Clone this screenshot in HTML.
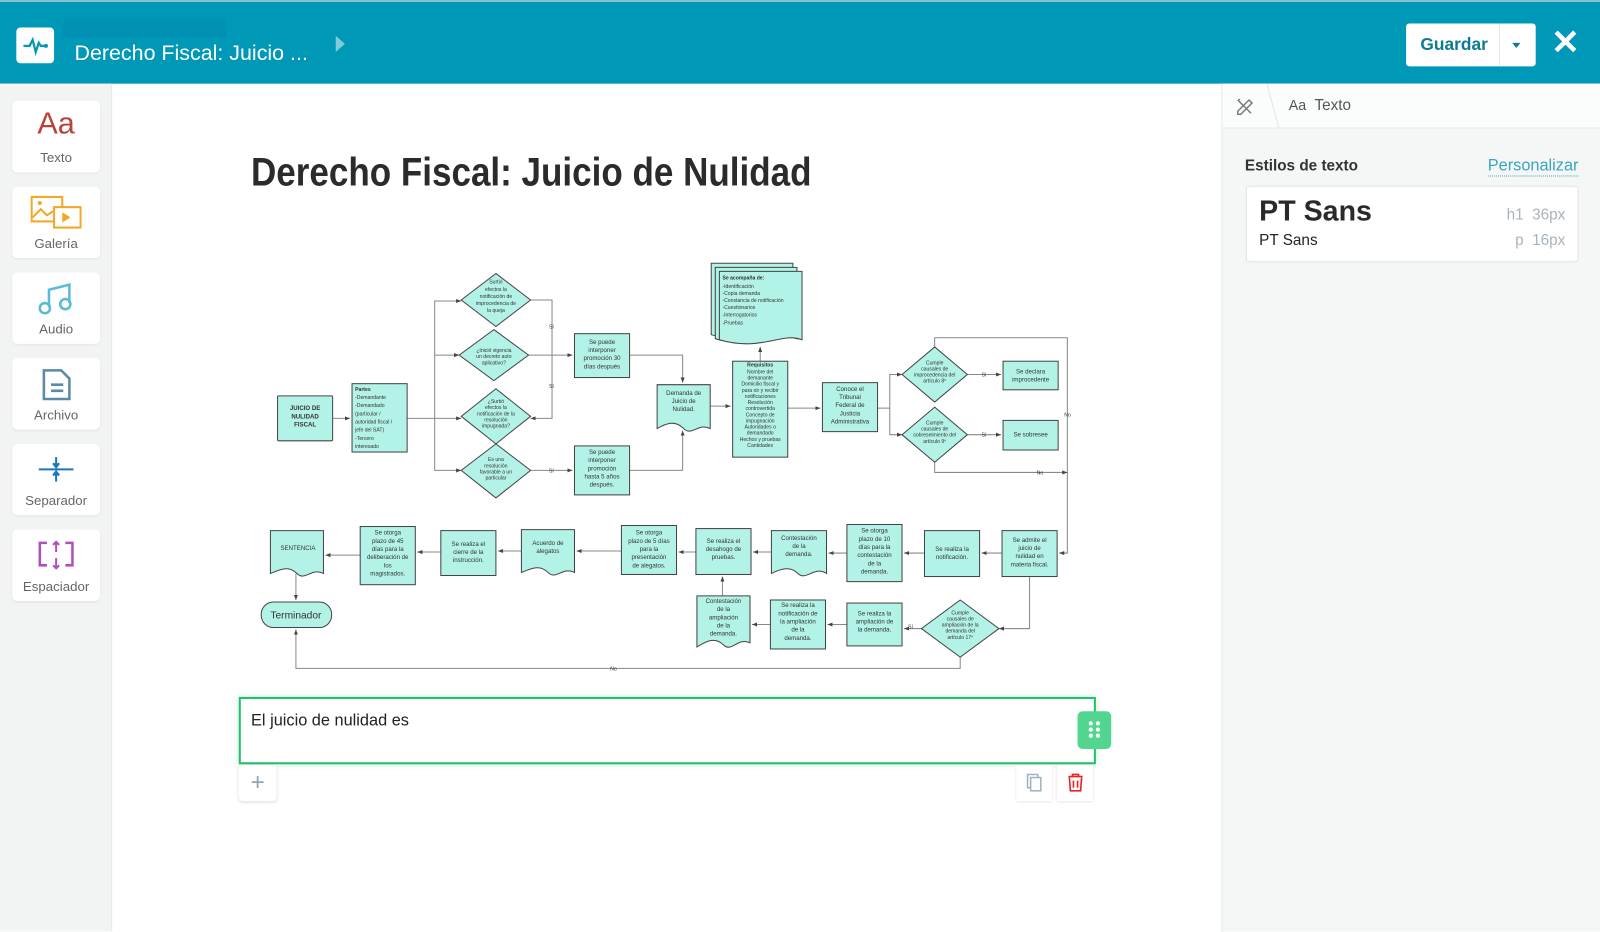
<!DOCTYPE html>
<html><head><meta charset="utf-8">
<style>
*{box-sizing:border-box;margin:0;padding:0}
html,body{width:1600px;height:913px;overflow:hidden;background:#fff}
#w{position:absolute;left:0;top:0;width:1568px;height:895px;transform:scale(1.0204);transform-origin:0 0;font-family:"Liberation Sans",sans-serif}
.hdr{position:absolute;left:0;top:0;width:1568px;height:82px;background:#0098b7;border-top:2px solid #7fc4d4}
.logo{position:absolute;left:16px;top:25px;width:37px;height:35px;background:#fff;border-radius:4px}
.blur{position:absolute;left:62px;top:17px;width:160px;height:18px;background:#0090b3}
.ttl{position:absolute;left:73px;top:39px;color:#fff;font-size:21px}
.tri{position:absolute;left:329px;top:33px;width:0;height:0;border-left:9px solid #7fcbdc;border-top:8px solid transparent;border-bottom:8px solid transparent}
.save{position:absolute;left:1378px;top:21px;width:127px;height:42px;background:#fff;border-radius:3px}
.save b{position:absolute;left:14px;top:11px;color:#0b7a93;font-size:17px}
.save i{position:absolute;left:91px;top:0;width:1px;height:42px;background:#e3e3e3}
.save s{position:absolute;left:104px;top:19px;border-top:5px solid #0b7a93;border-left:4px solid transparent;border-right:4px solid transparent}
.x{position:absolute;left:1520px;top:20px;color:#fff;font-size:34px;font-weight:bold}
.side{position:absolute;left:0;top:82px;width:110px;height:831px;background:#f2f3f3;box-shadow:inset -1px 0 0 #e8e8e8}
.card{position:absolute;left:12px;width:86px;height:70px;background:#fff;border-radius:5px;box-shadow:0 1px 2px rgba(0,0,0,.06)}
.card span{position:absolute;left:0;width:86px;top:48px;text-align:center;font-size:13px;color:#666}
.rp{position:absolute;left:1197px;top:82px;width:403px;height:831px;background:#f5f7f7;border-left:1px solid #e6eaea}
.rph{position:absolute;left:0;top:0;width:403px;height:44px;background:#fbfcfc;border-bottom:1px solid #dfe6e6}
</style></head><body><div id="w">
<div class="hdr">
 <div class="logo"><svg width="37" height="35"><path d="M7 18h6l3-6 3 12 3-9 2 3h4" stroke="#0098b7" stroke-width="2.2" fill="none"/><circle cx="29" cy="18" r="2" fill="#0098b7"/></svg></div>
 <div class="blur"></div>
 <div class="ttl">Derecho Fiscal: Juicio ...</div>
 <div class="tri"></div>
 <div class="save"><b>Guardar</b><i></i><s></s></div>
 <div class="x">✕</div>
</div>
<div class="side">
 <div class="card" style="top:17px"><div style="position:absolute;left:0;width:86px;top:6px;text-align:center;color:#b8433a;font-size:30px">Aa</div><span>Texto</span></div>
 <div class="card" style="top:101px"><svg style="position:absolute;left:18px;top:8px" width="50" height="36"><rect x="1" y="2" width="30" height="24" fill="none" stroke="#f5a623" stroke-width="2"/><rect x="23" y="12" width="26" height="20" fill="#fff" stroke="#f5a623" stroke-width="2"/><path d="M31 17l8 5-8 5z" fill="#f5a623"/><path d="M2 22l8-8 6 6 6-4" stroke="#f5a623" stroke-width="2" fill="none"/><circle cx="9" cy="8" r="2" fill="#f5a623"/></svg><span>Galería</span></div>
 <div class="card" style="top:185px"><svg style="position:absolute;left:25px;top:10px" width="36" height="32"><path d="M11 24V7l20-5v18" stroke="#5bbbd6" stroke-width="2.5" fill="none"/><circle cx="7" cy="25" r="5" fill="none" stroke="#5bbbd6" stroke-width="2.5"/><circle cx="27" cy="21" r="5" fill="none" stroke="#5bbbd6" stroke-width="2.5"/></svg><span>Audio</span></div>
 <div class="card" style="top:269px"><svg style="position:absolute;left:29px;top:10px" width="30" height="32"><path d="M2 2h17l8 8v20H2z" fill="none" stroke="#5a8aa5" stroke-width="2.5"/><path d="M9 16h12M9 22h12" stroke="#5a8aa5" stroke-width="2.5"/></svg><span>Archivo</span></div>
 <div class="card" style="top:353px"><svg style="position:absolute;left:25px;top:12px" width="36" height="26"><path d="M1 13h34" stroke="#1a78b8" stroke-width="2"/><path d="M18 1v8M15 7l3 4 3-4M18 25v-8M15 19l3-4 3 4" stroke="#1a78b8" stroke-width="2" fill="#1a78b8"/></svg><span>Separador</span></div>
 <div class="card" style="top:437px"><svg style="position:absolute;left:25px;top:10px" width="36" height="30"><path d="M9 3H2v22h7M27 3h7v22h-7" stroke="#b24fbf" stroke-width="2.5" fill="none"/><path d="M18 2v10M18 28V18M15 5l3-3 3 3M15 25l3 3 3-3" stroke="#b24fbf" stroke-width="2" fill="none"/></svg><span>Espaciador</span></div>
</div>

<div style="position:absolute;left:246px;top:148px;font-size:39px;font-weight:bold;color:#2b2b2b;transform:scaleX(0.88);transform-origin:0 0;white-space:nowrap">Derecho Fiscal: Juicio de Nulidad</div>

<svg style="position:absolute;left:0;top:0" width="1200" height="913" font-family="Liberation Sans, sans-serif" font-size="6" fill="#333">
<defs><marker id="a" markerWidth="6" markerHeight="6" refX="5" refY="3" orient="auto"><path d="M0 1L5 3 0 5z" fill="#444"/></marker></defs>
<g stroke="#888" stroke-width="1" fill="none" marker-end="url(#a)">
<path d="M326 410H343"/><path d="M399 410H452"/>
<path d="M426 410V295H452"/><path d="M426 410V461H452"/><path d="M426 348H450"/>
<path d="M520 294H541V410H520"/><path d="M518 348H561"/><path d="M520 461H561"/>
<path d="M617 348H669V375"/><path d="M617 461H669V422"/>
<path d="M696 398H716"/><path d="M745 354V340"/>
<path d="M772 400H804"/><path d="M860 400H872V367H884"/><path d="M872 400V426H884"/>
<path d="M948 367H981"/><path d="M948 426H981"/>
<path d="M916 340V331H1046V542H1038"/><path d="M916 453V463H1046"/>
<path d="M982 542H962"/><path d="M906 542H886"/><path d="M830 542H812"/><path d="M756 541H738"/>
<path d="M682 541H665"/><path d="M609 540H565"/><path d="M511 540H488"/><path d="M432 541H409"/><path d="M353 544H319"/>
<path d="M290 562V588"/>
<path d="M1009 565V616H979"/><path d="M903 616H886"/><path d="M830 612H811"/><path d="M755 612H737"/><path d="M708 584V565"/>
<path d="M941 644V655H290V617"/>
</g>
<g fill="#b3f2e7" stroke="#444" stroke-width="1">
<rect x="272" y="388" width="54" height="44" rx="1"/><rect x="345" y="376" width="54" height="67"/>
<path d="M486 268L520 294 486 320 452 294z"/><path d="M484 323L518 348 484 373 450 348z"/>
<path d="M486 381L520 408 486 435 452 408z"/><path d="M486 435L520 461 486 488 452 461z"/>
<rect x="563" y="327" width="54" height="43"/><rect x="563" y="437" width="54" height="48"/>
<path d="M644 377h52v43c-12-6-18 8-26 0s-16-6-26 0z"/>
<path d="M697 258h80v70c-20-8-40 12-80 0z"/><path d="M701 262h80v70c-20-8-40 12-80 0z"/><path d="M705 266h81v67c-20-8-40 12-81 0z"/>
<rect x="718" y="354" width="54" height="94"/><rect x="806" y="375" width="54" height="48"/>
<path d="M916 340L948 367 916 394 884 367z"/><path d="M916 399L948 426 916 453 884 426z"/>
<rect x="983" y="354" width="54" height="28"/><rect x="983" y="412" width="54" height="29"/>
<rect x="982" y="520" width="54" height="45"/><rect x="906" y="520" width="54" height="45"/><rect x="830" y="514" width="54" height="56"/>
<path d="M756 520h54v42c-12-8-20 8-28 0s-18-4-26 0z"/>
<rect x="682" y="518" width="54" height="45"/><rect x="609" y="515" width="54" height="48"/>
<path d="M511 519h52v42c-12-6-18 8-26 0s-16-4-26 0z"/>
<rect x="432" y="520" width="54" height="44"/><rect x="353" y="516" width="54" height="57"/>
<path d="M265 520h52v42c-12-6-18 8-26 0s-16-4-26 0z"/>
<rect x="256" y="590" width="69" height="25" rx="12"/>
<path d="M941 588L979 616 941 644 903 616z"/>
<rect x="830" y="591" width="54" height="42"/><rect x="755" y="588" width="54" height="48"/>
<path d="M683 584h52v46c-12-6-18 10-26 2s-16-4-26 2z"/>
</g>
<g text-anchor="middle" stroke="none">
<text x="299" y="402" font-weight="bold">JUICIO DE</text><text x="299" y="410" font-weight="bold">NULIDAD</text><text x="299" y="418" font-weight="bold">FISCAL</text>
<text x="486" y="278" font-size="5">Surtió</text><text x="486" y="285" font-size="5">efectos la</text><text x="486" y="292" font-size="5">notificación de</text><text x="486" y="299" font-size="5">improcedencia de</text><text x="486" y="306" font-size="5">la queja</text>
<text x="484" y="345" font-size="5">¿Inició vigencia</text><text x="484" y="351" font-size="5">un decreto auto</text><text x="484" y="357" font-size="5">aplicativo?</text>
<text x="486" y="395" font-size="5">¿Surtió</text><text x="486" y="401" font-size="5">efectos la</text><text x="486" y="407" font-size="5">notificación de la</text><text x="486" y="413" font-size="5">resolución</text><text x="486" y="419" font-size="5">impugnada?</text>
<text x="486" y="452" font-size="5">Es una</text><text x="486" y="458" font-size="5">resolución</text><text x="486" y="464" font-size="5">favorable a un</text><text x="486" y="470" font-size="5">particular</text>
<text x="590" y="337">Se puede</text><text x="590" y="345">interponer</text><text x="590" y="353">promoción 30</text><text x="590" y="361">días después</text>
<text x="590" y="445">Se puede</text><text x="590" y="453">interponer</text><text x="590" y="461">promoción</text><text x="590" y="469">hasta 5 años</text><text x="590" y="477">después.</text>
<text x="670" y="387">Demanda de</text><text x="670" y="395">Juicio de</text><text x="670" y="403">Nulidad.</text>
<text x="833" y="383">Conoce el</text><text x="833" y="391">Tribunal</text><text x="833" y="399">Federal de</text><text x="833" y="407">Justicia</text><text x="833" y="415">Administrativa</text>
<text x="916" y="357" font-size="5">Cumple</text><text x="916" y="363" font-size="5">causales de</text><text x="916" y="369" font-size="5">improcedencia del</text><text x="916" y="375" font-size="5">artículo 8º</text>
<text x="916" y="416" font-size="5">Cumple</text><text x="916" y="422" font-size="5">causales de</text><text x="916" y="428" font-size="5">sobreseimiento del</text><text x="916" y="434" font-size="5">artículo 9º</text>
<text x="1010" y="366">Se declara</text><text x="1010" y="374">improcedente</text><text x="1010" y="428">Se sobresee</text>
<text x="1009" y="531">Se admite el</text><text x="1009" y="539">juicio de</text><text x="1009" y="547">nulidad en</text><text x="1009" y="555">materia fiscal.</text>
<text x="933" y="540">Se realiza la</text><text x="933" y="548">notificación.</text>
<text x="857" y="522">Se otorga</text><text x="857" y="530">plazo de 10</text><text x="857" y="538">días para la</text><text x="857" y="546">contestación</text><text x="857" y="554">de la</text><text x="857" y="562">demanda.</text>
<text x="783" y="529">Contestación</text><text x="783" y="537">de la</text><text x="783" y="545">demanda.</text>
<text x="709" y="532">Se realiza el</text><text x="709" y="540">desahogo de</text><text x="709" y="548">pruebas.</text>
<text x="636" y="524">Se otorga</text><text x="636" y="532">plazo de 5 días</text><text x="636" y="540">para la</text><text x="636" y="548">presentación</text><text x="636" y="556">de alegatos.</text>
<text x="537" y="534">Acuerdo de</text><text x="537" y="542">alegatos</text>
<text x="459" y="535">Se realiza el</text><text x="459" y="543">cierre de la</text><text x="459" y="551">instrucción.</text>
<text x="380" y="524">Se otorga</text><text x="380" y="532">plazo de 45</text><text x="380" y="540">días para la</text><text x="380" y="548">deliberación de</text><text x="380" y="556">los</text><text x="380" y="564">magistrados.</text>
<text x="292" y="539">SENTENCIA</text>
<text x="290" y="606" font-size="10">Terminador</text>
<text x="941" y="602" font-size="5">Cumple</text><text x="941" y="608" font-size="5">causales de</text><text x="941" y="614" font-size="5">ampliación de la</text><text x="941" y="620" font-size="5">demanda del</text><text x="941" y="626" font-size="5">artículo 17º</text>
<text x="857" y="603">Se realiza la</text><text x="857" y="611">ampliación de</text><text x="857" y="619">la demanda.</text>
<text x="782" y="595">Se realiza la</text><text x="782" y="603">notificación de</text><text x="782" y="611">la ampliación</text><text x="782" y="619">de la</text><text x="782" y="627">demanda.</text>
<text x="709" y="591">Contestación</text><text x="709" y="599">de la</text><text x="709" y="607">ampliación</text><text x="709" y="615">de la</text><text x="709" y="623">demanda.</text>
<text x="745" y="359" font-weight="bold" font-size="5">Requisitos</text>
</g>
<g font-size="5" stroke="none">
<text x="348" y="383" font-weight="bold">Partes</text><text x="348" y="391">-Demandante</text><text x="348" y="399">-Demandado</text><text x="348" y="407">(particular /</text><text x="348" y="415">autoridad fiscal /</text><text x="348" y="423">jefe del SAT)</text><text x="348" y="431">-Tercero</text><text x="348" y="439">interesado</text>
<text x="708" y="274" font-weight="bold">Se acompaña de:</text><text x="708" y="282">-Identificación</text><text x="708" y="289">-Copia demanda</text><text x="708" y="296">-Constancia de notificación</text><text x="708" y="303">-Cuestionarios</text><text x="708" y="310">-Interrogatorios</text><text x="708" y="318">-Pruebas</text>
<text x="745" y="366" text-anchor="middle">Nombre del</text><text x="745" y="372" text-anchor="middle">demanante</text><text x="745" y="378" text-anchor="middle">Domicilio fiscal y</text><text x="745" y="384" text-anchor="middle">para oir y recibir</text><text x="745" y="390" text-anchor="middle">notificaciones</text><text x="745" y="396" text-anchor="middle">Resolución</text><text x="745" y="402" text-anchor="middle">controvertida</text><text x="745" y="408" text-anchor="middle">Concepto de</text><text x="745" y="414" text-anchor="middle">impugnación</text><text x="745" y="420" text-anchor="middle">Autoridades o</text><text x="745" y="426" text-anchor="middle">demandado</text><text x="745" y="432" text-anchor="middle">Hechos y pruebas</text><text x="745" y="438" text-anchor="middle">Cantidades</text>
<text x="538" y="322">Sí</text><text x="538" y="380">Sí</text><text x="538" y="463">Sí</text><text x="962" y="369">Sí</text><text x="962" y="428">Sí</text><text x="1043" y="408">No</text><text x="1016" y="465">No</text><text x="890" y="616">Sí</text><text x="598" y="657">No</text>
</g>
</svg>

<div style="position:absolute;left:234px;top:683px;width:840px;height:66px;border:2px solid #22c06a;box-shadow:0 0 6px rgba(34,192,106,.3);background:#fff"></div>
<div style="position:absolute;left:246px;top:698px;font-size:16px;color:#222">El juicio de nulidad es</div>
<div style="position:absolute;left:1056px;top:697px;width:33px;height:37px;background:#52d68f;border-radius:5px"><svg width="33" height="37"><g fill="#fff"><circle cx="13" cy="12" r="2"/><circle cx="20" cy="12" r="2"/><circle cx="13" cy="18" r="2"/><circle cx="20" cy="18" r="2"/><circle cx="13" cy="24" r="2"/><circle cx="20" cy="24" r="2"/></g></svg></div>
<div style="position:absolute;left:234px;top:750px;width:37px;height:35px;background:#fff;box-shadow:0 1px 3px rgba(0,0,0,.12);border-radius:0 0 4px 4px;color:#8fa6b6;font-size:24px;text-align:center;line-height:33px">+</div>
<div style="position:absolute;left:996px;top:750px;width:35px;height:35px;background:#fff;box-shadow:0 1px 3px rgba(0,0,0,.12)"><svg width="35" height="35"><rect x="11" y="9" width="10" height="13" fill="none" stroke="#9fb4c2" stroke-width="1.5"/><rect x="14" y="12" width="10" height="13" fill="#fff" stroke="#9fb4c2" stroke-width="1.5"/></svg></div>
<div style="position:absolute;left:1036px;top:750px;width:35px;height:35px;background:#fff;box-shadow:0 1px 3px rgba(0,0,0,.12)"><svg width="35" height="35"><path d="M11 11h14M15 11V9h6v2M12 12l1 13h10l1-13M16 15v7M20 15v7" stroke="#e8261e" stroke-width="1.6" fill="none"/></svg></div>

<div class="rp">
 <div class="rph">
  <svg style="position:absolute;left:12px;top:12px" width="20" height="20"><path d="M3 15L14 4l3 3L6 18H3zM3 4l13 13M5 3l-2 2" stroke="#777" stroke-width="1.4" fill="none"/></svg>
  <div style="position:absolute;left:38px;top:0;width:12px;height:44px;border-right:1px solid #dfe6e6;transform:skewX(15deg)"></div>
  <div style="position:absolute;left:65px;top:13px;font-size:15px;color:#555"><span style="font-size:14px">Aa</span>&nbsp; Texto</div>
 </div>
 <div style="position:absolute;left:22px;top:72px;font-size:15px;font-weight:bold;color:#333">Estilos de texto</div>
 <div style="position:absolute;left:260px;top:72px;font-size:16px;color:#3aa6bd;border-bottom:1px dotted #3aa6bd">Personalizar</div>
 <div style="position:absolute;left:23px;top:100px;width:326px;height:75px;background:#fff;border:1px solid #dde5e5;border-radius:3px">
  <div style="position:absolute;left:12px;top:8px;font-size:28px;font-weight:bold;color:#2a2a2a">PT Sans</div>
  <div style="position:absolute;left:12px;top:44px;font-size:15px;color:#222">PT Sans</div>
  <div style="position:absolute;right:12px;top:19px;font-size:15px;color:#a8b4bc">h1&nbsp;&nbsp;36px</div>
  <div style="position:absolute;right:12px;top:44px;font-size:15px;color:#a8b4bc">p&nbsp;&nbsp;16px</div>
 </div>
</div>
</div></body></html>
